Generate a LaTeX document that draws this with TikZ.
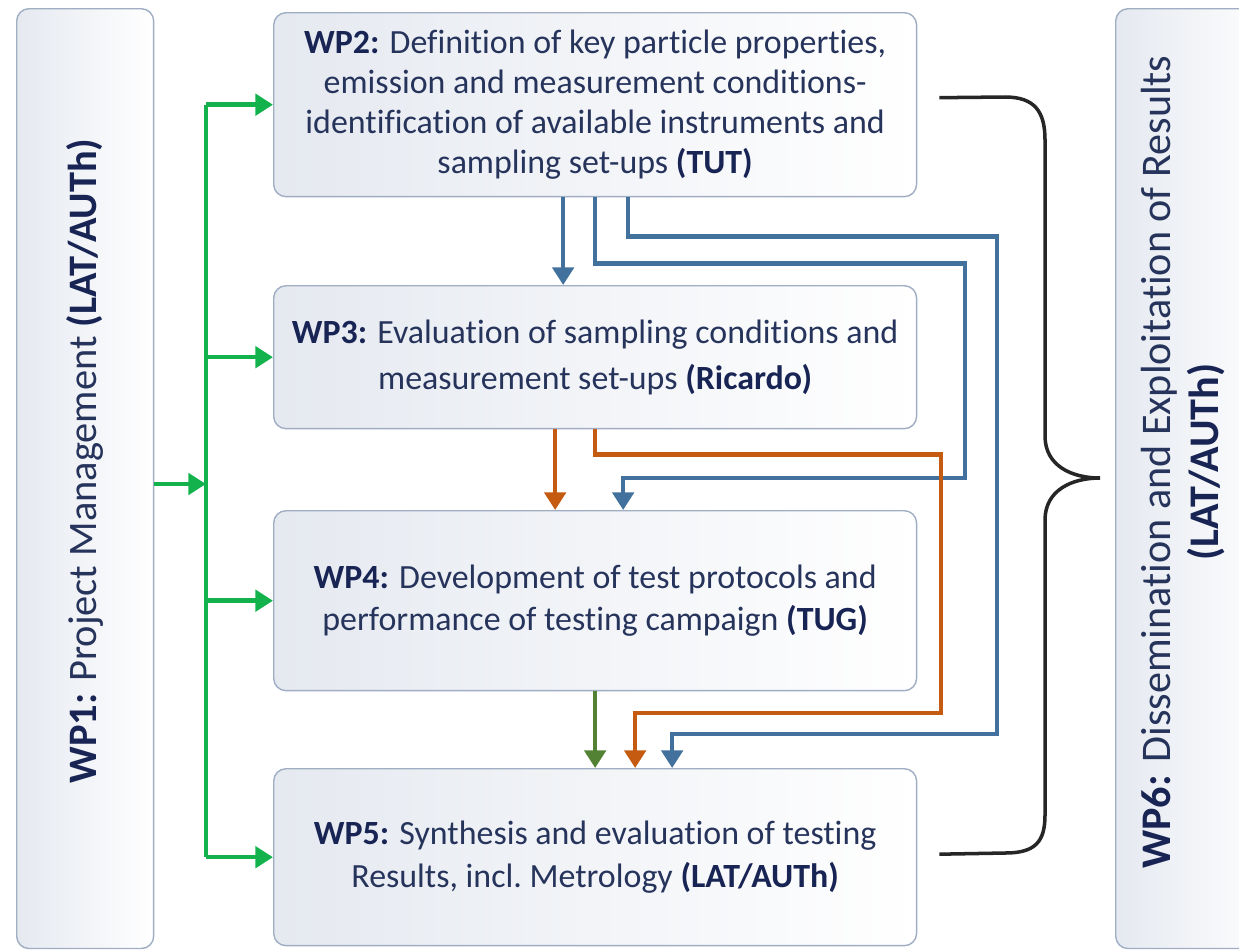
\documentclass[tikz,border=0pt]{standalone}
\usepackage{fontspec}
\setmainfont{Carlito}[Ligatures={TeX,NoCommon}]
\usepackage{tikz}
\usetikzlibrary{arrows.meta,calc}

\definecolor{wpnavy}{RGB}{24,36,84}
\definecolor{wptext}{RGB}{38,52,92}
\definecolor{wpborder}{RGB}{160,174,196}
\definecolor{wpshade}{RGB}{229,233,240}
\definecolor{wpgreen}{RGB}{20,178,76}
\definecolor{wpdkgreen}{RGB}{84,130,53}
\definecolor{wpblue}{RGB}{65,113,156}
\definecolor{wporange}{RGB}{197,90,17}
\definecolor{wpbrace}{RGB}{38,38,38}

\newcommand{\wpb}[1]{\textcolor{wpnavy}{\bfseries #1}}

\begin{document}
\begin{tikzpicture}[x=0.02cm, y=-0.02cm,
    wpbox/.style={rectangle, rounded corners=7pt, draw=wpborder, line width=0.8pt,
      left color=wpshade, right color=white, anchor=north west, inner sep=0pt,
      align=center, text=wptext, minimum width=12.86cm},
    sidelabel/.style={rotate=90, align=center, text=wptext, inner sep=0pt},
    link/.style={line width=2.6pt, >={Triangle[width=12pt,length=10pt]}},
    brace/.style={line width=2pt, draw=wpbrace}]

  \clip (0,0) rectangle (1239,951);

  % Define nodes
  \node[wpbox, minimum width=2.74cm, minimum height=18.8cm] (wp1) at (16,8) {};
  \node[sidelabel, font=\fontsize{23pt}{27pt}\selectfont] (wp1txt) at (85,461)
    {\wpb{WP1:} Project Management \wpb{(LAT/AUTh)}};

  \node[wpbox, minimum height=3.68cm, font=\fontsize{19.3pt}{22.8pt}\selectfont] (wp2) at (273,12)
    {\wpb{WP2:} Definition of key particle properties,\\
     emission and measurement conditions-\\
     identification of available instruments and\\
     sampling set-ups \wpb{(TUT)}};

  \node[wpbox, minimum height=2.86cm, font=\fontsize{19.3pt}{26pt}\selectfont] (wp3) at (273,285)
    {\wpb{WP3:} Evaluation of sampling conditions and\\
     measurement set-ups \wpb{(Ricardo)}};

  \node[wpbox, minimum height=3.6cm, font=\fontsize{19.3pt}{24pt}\selectfont] (wp4) at (273,510)
    {\wpb{WP4:} Development of test protocols and\\
     performance of testing campaign \wpb{(TUG)}};

  \node[wpbox, minimum height=3.54cm, font=\fontsize{19.3pt}{24pt}\selectfont] (wp5) at (273,768)
    {\wpb{WP5:} Synthesis and evaluation of testing\\
     Results, incl.\ Metrology \wpb{(LAT/AUTh)}};

  \node[wpbox, minimum width=3.2cm, minimum height=18.8cm] (wp6) at (1115,8) {};
  \node[sidelabel, font=\fontsize{24pt}{27.3pt}\selectfont] (wp6txt) at (1183,462)
    {\wpb{WP6:} Dissemination and Exploitation of Results\\ \wpb{(LAT/AUTh)}};

  % WP1 feeds every WP
  \coordinate (bus) at (206,484);
  \draw[link, wpgreen, ->] (wp1.east |- bus) -- (bus);
  \draw[link, wpgreen] (wp2.west -| bus) -- (wp5.west -| bus);
  \foreach \n in {2,...,5}
    \draw[link, wpgreen, ->] (wp\n.west -| bus) -- (wp\n.west);

  % WP2 outputs
  \draw[link, wpblue, ->] ($(wp2.south)+(-32,0)$) -- ($(wp3.north)+(-32,0)$);
  \draw[link, wpblue, ->] (wp2.south) -- ++(0,66) -| (965,478) -| ($(wp4.north)+(28,0)$);
  \draw[link, wpblue, ->] ($(wp2.south)+(33,0)$) -- ++(0,39) -| (997,734) -| ($(wp5.north)+(77,0)$);

  % WP3 outputs
  \draw[link, wporange, ->] ($(wp3.south)+(-40,0)$) -- ($(wp4.north)+(-40,0)$);
  \draw[link, wporange, ->] (wp3.south) -- ++(0,25) -| (941,713) -| ($(wp5.north)+(40,0)$);

  % WP4 output
  \draw[link, wpdkgreen, ->] (wp4.south) -- (wp5.north);

  % brace towards WP6
  \coordinate (bt) at ($(wp2.east)+(22,-7)$);
  \coordinate (bb) at ($(wp5.east)+(22,-3)$);
  \coordinate (tip) at (1100,478);
  \draw[brace] (bt) -- (1005,97) .. controls (1035,97) and (1045,112) .. (1045,140)
    -- (1045,436) .. controls (1045,466) and (1072,478) .. (tip)
    .. controls (1072,478) and (1045,490) .. (1045,520)
    -- (1045,815) .. controls (1045,842) and (1035,853) .. (1005,853) -- (bb);

\end{tikzpicture}
\end{document}
